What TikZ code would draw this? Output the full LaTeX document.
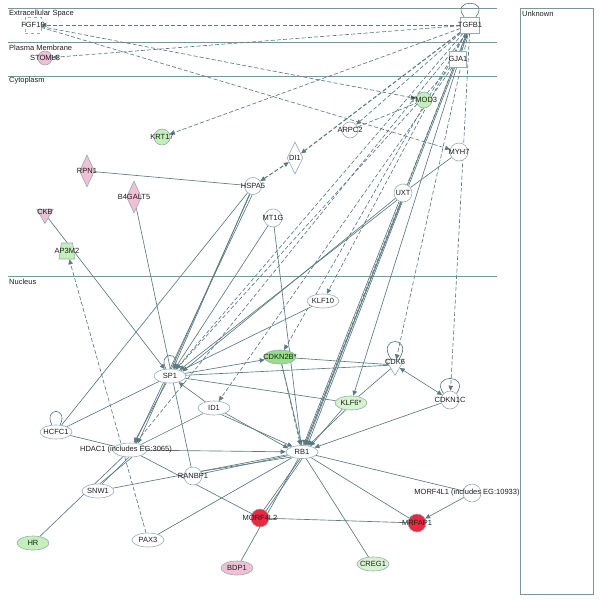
\documentclass[tikz,border=0pt]{standalone}
\usepackage{fontspec}
\setmainfont{Liberation Sans}
\usetikzlibrary{shapes.geometric,arrows.meta,backgrounds}
\definecolor{edgec}{RGB}{92,122,128}
\definecolor{nodeb}{RGB}{150,172,178}
\definecolor{compc}{RGB}{120,150,155}
\definecolor{gfill}{RGB}{196,238,186}
\definecolor{gdark}{RGB}{150,222,140}
\definecolor{glight}{RGB}{216,243,208}
\definecolor{pfill}{RGB}{240,192,212}
\definecolor{rfill}{RGB}{234,40,64}
\definecolor{txtc}{RGB}{30,30,30}
\tikzset{
 lblf/.style={font=\fontsize{7.5}{9}\selectfont},
 every label/.style={lblf, inner sep=0pt, text=txtc},
 ell/.style={ellipse, draw=nodeb, fill=white, minimum width=32pt, minimum height=14pt, inner sep=0pt, line width=0.6pt},
 circ/.style={circle, draw=nodeb, fill=white, minimum size=17pt, inner sep=0pt, line width=0.6pt},
 sq/.style={rectangle, draw=nodeb, fill=white, minimum width=19pt, minimum height=16pt, inner sep=0pt, line width=0.6pt},
 dia/.style={diamond, draw=nodeb, fill=white, minimum width=16pt, minimum height=32pt, inner sep=0pt, line width=0.6pt},
 itri/.style={regular polygon, regular polygon sides=3, shape border rotate=180, draw=nodeb, fill=white, minimum size=18pt, inner sep=0pt, line width=0.6pt},
 trap/.style={trapezium, trapezium angle=78, trapezium stretches=true, draw=nodeb, fill=white, minimum width=16pt, minimum height=16pt, inner sep=0.5pt, line width=0.6pt},
 ln/.style={draw=edgec, line width=0.65pt},
 dsh/.style={ln, dash pattern=on 4pt off 2.2pt},
 arrowend/.style={-{Triangle[length=5pt,width=4.5pt]}},
 arrowboth/.style={{Triangle[length=5pt,width=4.5pt]}-{Triangle[length=5pt,width=4.5pt]}},
 comp/.style={draw=compc, line width=0.9pt},
 cl/.style={lblf, inner sep=0pt, text=txtc, anchor=west}
}
\begin{document}
\begin{tikzpicture}[x=1pt,y=-1pt]
\useasboundingbox (0,0) rectangle (600,602);
% compartment labels
\node[cl] (lext) at (9,14) {Extracellular Space};
\node[cl] (lpm) at (9,48) {Plasma Membrane};
\node[cl] (lcyt) at (9,81) {Cytoplasm};
\node[cl] (lnuc) at (9,282) {Nucleus};
\node[cl] (lunk) at (522,14) {Unknown};
% nodes
\node[sq, draw=nodeb, dashed, fill=none, minimum width=16pt, label=center:FGF10] (fgf) at (33,25) {};
\node[circ, fill=pfill, minimum size=14pt, label=center:STOML3] (stoml3) at (45,58) {};
\node[sq, label=center:TGFB1] (tgfb1) at (470,25) {};
\node[sq, minimum width=17pt, label=center:GJA1] (gja1) at (458,59) {};
\node[circ, fill=gfill, minimum size=16pt, label=center:TMOD3] (tmod3) at (424,100) {};
\node[circ, minimum size=16pt, label=center:ARPC2] (arpc2) at (350,130) {};
\node[circ, fill=gfill, minimum size=16pt, label=center:KRT17] (krt17) at (162,137) {};
\node[circ, minimum size=18pt, label=center:MYH7] (myh7) at (459,152) {};
\node[dia, label=center:DI1] (di1) at (295,158) {};
\node[dia, fill=pfill, minimum width=15pt, label=center:RPN1] (rpn1) at (87,171) {};
\node[dia, fill=pfill, minimum width=15pt, label=center:B4GALT5] (b4galt5) at (134,197) {};
\node[circ, label=center:HSPA5] (hspa5) at (253,186) {};
\node[circ, minimum size=18pt, label=center:UXT] (uxt) at (403,193) {};
\node[itri, fill=pfill, minimum size=19pt, label={[yshift=2pt]center:CKB}] (ckb) at (45,214) {};
\node[circ, minimum size=18pt, label=center:MT1G] (mt1g) at (273,218) {};
\node[trap, fill=gfill, label=center:AP3M2] (ap3m2) at (67,251) {};
\node[ell, label=center:KLF10] (klf10) at (323,301) {};
\node[ell, fill=gdark, label=center:CDKN2B*] (cdkn2b) at (280,357) {};
\node[itri, minimum size=21pt, label={[yshift=3pt]center:CDK6}] (cdk6) at (395,365) {};
\node[circ, minimum size=18pt, label=center:CDKN1C] (cdkn1c) at (450,400) {};
\node[ell, label=center:SP1] (sp1) at (170,376) {};
\node[ell, fill=glight, label=center:KLF6*] (klf6) at (351,403) {};
\node[ell, label=center:ID1] (id1) at (214,408) {};
\node[ell, label=center:HCFC1] (hcfc1) at (56,432) {};
\node[ell, minimum width=34pt, label={[xshift=-4pt]center:{HDAC1 (includes EG:3065)}}] (hdac1) at (130,450) {};
\node[ell, minimum width=32pt, minimum height=13pt, label=center:RB1] (rb1) at (302,452) {};
\node[circ, minimum size=18pt, label=center:RANBP1] (ranbp1) at (193,476) {};
\node[ell, label=center:SNW1] (snw1) at (98,491) {};
\node[circ, minimum size=18pt, label={[xshift=-5pt]center:{MORF4L1 (includes EG:10933)}}] (morf4l1) at (472,493) {};
\node[circ, fill=rfill, minimum size=18pt, label=center:MORF4L2] (morf4l2) at (260,518) {};
\node[circ, fill=rfill, minimum size=18pt, label=center:MRFAP1] (mrfap1) at (417,523) {};
\node[ell, fill=gfill, label=center:HR] (hr) at (33,543) {};
\node[ell, label=center:PAX3] (pax3) at (148,540) {};
\node[ell, fill=pfill, label=center:BDP1] (bdp1) at (237,568) {};
\node[ell, fill=glight, label=center:CREG1] (creg1) at (373,564) {};

\begin{scope}[on background layer]
% compartments
\draw[comp] (8,8) -- (497,8);
\draw[comp] (8,42) -- (497,42);
\draw[comp] (8,76) -- (497,76);
\draw[comp] (8,276) -- (497,276);
\draw[comp, line width=0.7pt] (520,8) rectangle (593,594);
% dashed relations
\draw[dsh,arrowend] (tgfb1) -- (fgf);
\draw[dsh,arrowend] (tgfb1) -- (stoml3);
\draw[dsh,arrowend] (tgfb1) -- (krt17);
\draw[dsh,arrowend] (fgf) -- (tmod3);
\draw[dsh,arrowend] (fgf) -- (myh7);
\draw[dsh,arrowend] (tgfb1) -- (arpc2);
\draw[dsh] (arpc2) -- (tmod3);
\draw[dsh,arrowend,line width=1.1pt] (tgfb1) -- (di1);
\draw[dsh,arrowboth,line width=1.1pt] (hspa5) -- (di1);
\draw[dsh,arrowend] (gja1) -- (tgfb1);
\draw[dsh,arrowend] (tgfb1) -- (klf10);
\draw[dsh,arrowend] (tgfb1) -- (cdkn2b);
\draw[dsh,arrowend] (gja1) -- (id1);
\draw[dsh,arrowend] (tgfb1) -- (cdk6);
\draw[dsh,arrowend] (tgfb1) -- (cdkn1c);
\draw[dsh,arrowend] (tgfb1) -- (sp1);
\draw[dsh,arrowend] (gja1) -- (sp1);
\draw[dsh,arrowend] (tgfb1.250) -- (hdac1);
\draw[dsh,arrowend] (tgfb1) -- (rb1);
\draw[dsh,arrowend] (cdkn2b) -- (rb1);
\draw[dsh,arrowend] (pax3) -- (ap3m2);
% solid relations
\draw[ln,arrowend] (tgfb1) -- (rb1.60);
\draw[ln,arrowend] (gja1) -- (rb1.50);
\draw[ln,arrowend] (tgfb1) -- (klf6);
\draw[ln,arrowend] (uxt.215) -- (sp1.20);
\draw[ln,arrowend] (uxt.230) -- (sp1.32);
\draw[ln,arrowend] (uxt.245) -- (rb1.78);
\draw[ln,arrowend] (uxt.260) -- (rb1.68);
\draw[ln] (uxt) -- (myh7);
\draw[ln] (rpn1) -- (hspa5);
\draw[ln] (hspa5) -- (hcfc1);
\draw[ln,arrowend] (hspa5) -- (sp1);
\draw[ln,arrowend] (hspa5.250) -- (hdac1.40);
\draw[ln,arrowend] (hspa5.265) -- (hdac1.55);
\draw[ln,arrowend] (mt1g) -- (sp1);
\draw[ln,arrowend] (mt1g) -- (rb1);
\draw[ln,arrowend] (ckb) -- (sp1);
\draw[ln] (b4galt5) -- (ranbp1);
\draw[ln] (klf10) -- (sp1);
\draw[ln,arrowend] (sp1) -- (cdkn2b);
\draw[ln] (sp1) -- (cdk6);
\draw[ln] (cdkn2b) -- (cdk6);
\draw[ln] (sp1) -- (klf6);
\draw[ln,arrowend] (id1) -- (sp1);
\draw[ln,arrowend] (id1.335) -- (rb1.165);
\draw[ln,arrowend] (id1.318) -- (rb1.150);
\draw[ln] (id1) -- (hdac1);
\draw[ln] (hcfc1) -- (sp1);
\draw[ln] (hcfc1) -- (hdac1);
\draw[ln,arrowend] (sp1) -- (hdac1);
\draw[ln,arrowend] (hdac1) -- (rb1);
\draw[ln] (hdac1.260) -- (snw1.60);
\draw[ln] (hdac1.285) -- (snw1.75);
\draw[ln] (hdac1) -- (hr);
\draw[ln] (hdac1) -- (morf4l2);
\draw[ln] (ranbp1.15) -- (rb1.195);
\draw[ln] (ranbp1.30) -- (rb1.205);
\draw[ln] (snw1) -- (rb1);
\draw[ln] (pax3) -- (rb1);
\draw[ln] (rb1.255) -- (morf4l2.65);
\draw[ln] (rb1.270) -- (morf4l2.50);
\draw[ln] (rb1) -- (bdp1);
\draw[ln] (rb1) -- (creg1);
\draw[ln] (rb1) -- (mrfap1);
\draw[ln] (rb1) -- (morf4l1);
\draw[ln] (morf4l2) -- (mrfap1);
\draw[ln,arrowend] (morf4l1) -- (mrfap1);
\draw[ln,arrowend] (cdkn1c) -- (rb1);
\draw[ln,arrowboth] (cdk6) -- (cdkn1c);
\draw[ln] (cdk6) -- (klf6);
\draw[ln,arrowend] (klf6.215) -- (rb1.35);
\draw[ln,arrowend] (klf6.232) -- (rb1.45);
\draw[ln,arrowend] (cdkn2b) -- (rb1.95);
% self loops
\draw[ln] ([xshift=-6pt]tgfb1.north) .. controls +(-14,-18) and +(14,-18) .. ([xshift=6pt]tgfb1.north);
\draw[ln] (sp1.120) .. controls +(-9,-18) and +(9,-18) .. (sp1.60);
\draw[ln] (hcfc1.120) .. controls +(-9,-18) and +(9,-18) .. (hcfc1.60);
\draw[ln] (cdk6.125) .. controls +(-16,-24) and +(16,-24) .. (cdk6.55);
\draw[ln] (cdkn1c.135) .. controls +(-14,-20) and +(14,-20) .. (cdkn1c.45);
\end{scope}
\end{tikzpicture}
\end{document}
